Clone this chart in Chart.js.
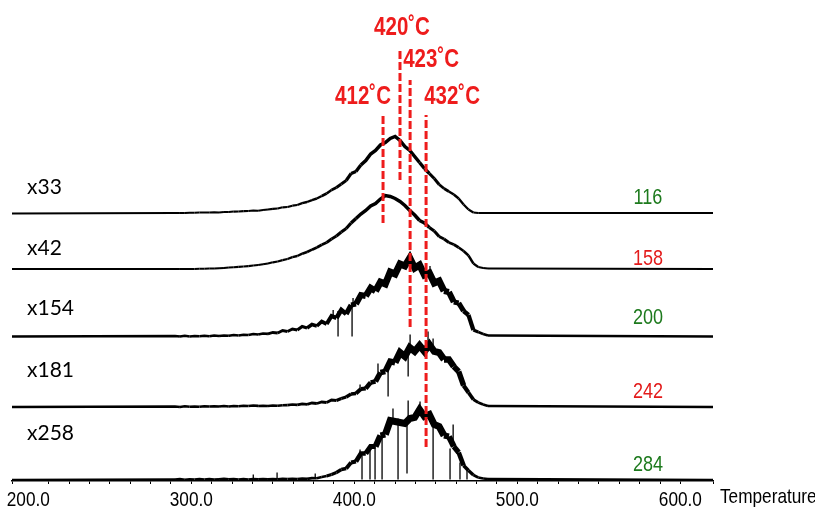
<!DOCTYPE html>
<html>
<head>
<meta charset="utf-8">
<script src="https://cdn.jsdelivr.net/npm/chart.js@4/dist/chart.umd.min.js"></script>
<style>
  html, body { margin: 0; padding: 0; background: #fff; }
  #wrap { width: 815px; height: 509px; }
</style>
</head>
<body>
<div id="wrap"><canvas id="tpdChart" width="815" height="509"></canvas></div>
<script>
// Temperature grid shared by the five traces
const temps = [190,
    290, 293, 296, 299, 302, 305, 308, 311, 314, 317,
    320, 323, 326, 329, 332, 335, 338, 341, 344, 347,
    350, 353, 356, 359, 362, 365, 368, 371, 374, 377,
    380, 383, 386, 389, 392, 395, 398, 401, 404, 407,
    410, 413, 416, 419, 422, 425, 428, 431, 434, 437,
    440, 443, 446, 449, 452, 455, 458, 461, 464, 467,
    470, 473, 476, 479, 482,
    620];
const tickTemps = [200, 300, 400, 500, 600];

const traceNames = ['x33', 'x42', 'x154', 'x181', 'x258'];
const traceTags = ['116', '158', '200', '242', '284'];
// vertical offset of each trace (stacked plot)
const offsets = [267.5, 211.5, 144, 73.5, 0.5];

// signal above each trace's own baseline
const x33 = [0,
    0.5, 0.5, 0.6, 0.7, 0.7, 0.9, 1, 1, 1.2, 1.1,
    1.4, 1.5, 1.9, 2, 2.4, 2.5, 3, 2.8, 3.5, 4,
    4.6, 5, 6.2, 6.5, 7.8, 8.5, 10.3, 11.5, 13.4, 15,
    17.5, 20, 23.5, 26, 29.5, 33, 40, 42, 48.5, 53,
    59.5, 63, 68.5, 71, 75, 77, 73, 67, 63, 57,
    51, 45, 40, 35, 29, 25, 22, 19, 15, 9,
    4, 1, 0.5, 0.5, 0.5,
    0.5];
const x42 = [0.5,
    0.5, 0.5, 0.6, 0.5, 0.6, 0.7, 0.8, 1, 1.1, 1.2,
    1.5, 2, 2.2, 2.6, 3, 3.4, 4, 4.5, 5.2, 6,
    7.2, 8, 9.3, 10.5, 12.4, 13.5, 15.8, 17.5, 19.8, 22,
    24.8, 27, 30.5, 33.5, 37.5, 41, 46.5, 51, 55.5, 59,
    63.5, 66, 70.5, 74, 73, 71, 68, 64, 59, 54.5,
    49, 46.5, 42, 38.5, 33, 30.5, 27, 25, 22, 18.5,
    14, 6, 2.5, 1.5, 1,
    0.5];
const x154 = [0.5,
    1, 0.5, 1.2, 0.6, 1, 0.8, 1.3, 0.7, 1.5, 1,
    1.6, 1.2, 2, 1.5, 2.3, 2, 3, 2.5, 3.5, 3.2,
    4.5, 4, 6.5, 5.5, 8, 7, 10.5, 9, 12.5, 11,
    15.5, 13, 21, 19, 27, 23, 32, 33, 42, 41,
    49, 46, 55, 53, 65, 63, 73, 71, 79, 69,
    72, 62, 64, 54, 56, 46, 45, 35, 34, 26,
    22, 7, 5, 3, 1.5,
    0.5];
const x181 = [0.5,
    1, 0.6, 1.2, 0.8, 1, 0.7, 1.3, 1, 1.2, 0.9,
    1.4, 1, 1.5, 1.2, 1.8, 1.4, 2, 1.6, 1.8, 1.5,
    2, 1.7, 2.2, 2.4, 3, 2.6, 3.6, 3.2, 4.5, 4,
    5.5, 5, 7.5, 7, 9, 10.5, 13.5, 14, 18.5, 19,
    25, 26, 35, 36, 46, 45, 55, 51, 60, 56,
    62, 56, 63, 56, 55, 48, 48, 41, 36, 22,
    15, 8, 5, 3, 1.5,
    0.5];
const x258 = [0.5,
    1, 1.5, 0.8, 1.3, 1, 1.6, 1.1, 1.4, 0.9, 1.3,
    1.8, 1.2, 1.5, 1, 1.4, 1.1, 1.6, 1.2, 1.5, 1.3,
    1.6, 1.2, 1.8, 1.4, 1.7, 1.5, 2, 1.6, 2.4, 2.2,
    3.5, 4.5, 6, 8, 11, 12, 18, 19, 27, 27,
    34, 34, 45, 46, 60, 59, 58, 57, 62, 63,
    71, 64, 66, 56, 54, 45, 44, 34, 28, 15,
    10, 5.5, 3, 2, 1.5,
    0.5];
const traceValues = [x33, x42, x154, x181, x258];

// single-point noise spikes: temperature, low end, high end
const spikeTemps154 = [387, 390, 398.6, 399.2, 421.9, 446.4];
const spikeLows154 = [20, 0.5, 0.5, 30, 62, 60];
const spikeHighs154 = [27, 26, 32, 39, 67, 71];
const spikeTemps181 = [403.5, 414.5, 420.7, 433.0, 434.2, 445.2, 448.3];
const spikeLows181 = [17, 35, 11, 31, 58, 60, 57];
const spikeHighs181 = [23, 44, 38, 57, 73, 76, 69];
const spikeTemps258 = [338, 352.6, 376, 403.5, 404.7, 409.6, 412.7, 417.0, 423.7, 426.8, 432.3, 433.0, 440.3, 448.3, 458.7, 460.6, 464.8, 469.1];
const spikeLows258 = [1, 1, 1.5, 24, 1, 1, 1, 1, 60, 1, 7, 60, 68, 1, 1, 36, 1, 1];
const spikeHighs258 = [6, 8, 7, 31, 25, 32, 36, 45, 72, 62, 60, 80, 79, 55, 32, 56, 18, 10];

// red dashed peak markers
const peakLabels = ['412˚C', '420˚C', '423˚C', '432˚C'];
const peakTemps = [417.6, 428.0, 434.2, 444.0];
const peakTops = [366, 433, 401, 366];
const peakBottoms = [258, 301, 154, 34];

// Arial Narrow is not available, so Liberation Sans is squeezed sideways
const SQUEEZE = 0.82;
function narrowText(ctx, s, x, y) {
    ctx.save();
    ctx.translate(x, y);
    ctx.scale(SQUEEZE, 1);
    ctx.fillText(s, 0, 0);
    ctx.restore();
}

const datasets = [];

peakTemps.forEach((t, i) => {
    datasets.push({
        label: peakLabels[i],
        data: [{ x: t, y: peakBottoms[i] }, { x: t, y: peakTops[i] }],
        borderColor: '#ee1c1c',
        borderWidth: 3,
        borderDash: [8, 3],
        pointRadius: 0,
        order: 0
    });
});

// noisy traces look like a thicker band where the signal is strong
traceValues.forEach((vals, i) => {
    const noisy = i >= 2;
    datasets.push({
        label: traceNames[i],
        data: temps.map((t, j) => ({ x: t, y: offsets[i] + vals[j] })),
        borderColor: '#000',
        borderWidth: noisy ? 2.4 : 2,
        pointRadius: 0,
        order: 1,
        segment: {
            borderWidth: c => {
                const v = Math.max(vals[c.p0DataIndex], vals[c.p1DataIndex]);
                return noisy ? 2.4 + Math.min(4.5, v / 12) : 2 + Math.min(1.5, v / 35);
            }
        }
    });
});

function spikeSet(name, off, ts, lows, highs) {
    const pts = [];
    ts.forEach((t, i) => {
        pts.push({ x: t, y: off + lows[i] }, { x: t, y: off + highs[i] }, { x: t, y: null });
    });
    return {
        label: name + ' spikes',
        data: pts,
        borderColor: '#000',
        borderWidth: 1.3,
        pointRadius: 0,
        spanGaps: false,
        order: 1
    };
}
datasets.push(spikeSet('x154', offsets[2], spikeTemps154, spikeLows154, spikeHighs154));
datasets.push(spikeSet('x181', offsets[3], spikeTemps181, spikeLows181, spikeHighs181));
datasets.push(spikeSet('x258', offsets[4], spikeTemps258, spikeLows258, spikeHighs258));

// texts: trace names, tags, peak temperatures, tick labels, axis title
const textPlugin = {
    id: 'texts',
    afterDatasetsDraw(chart) {
        const ctx = chart.ctx;
        const xs = chart.scales.x, ys = chart.scales.y;
        const nameY = [187, 248, 308, 370, 433];
        const tagY = [198, 259, 318, 392, 465];
        const tagColors = ['#1d7a1d', '#e31b1b', '#1d7a1d', '#e31b1b', '#1d7a1d'];
        const peakDx = [-20, 2, 21, 26];
        const peakDy = [18, 20, 20, 18];
        ctx.save();
        ctx.textBaseline = 'middle';

        ctx.textAlign = 'left';
        ctx.fillStyle = '#000';
        ctx.font = "21px Lato, sans-serif";
        traceNames.forEach((n, i) => ctx.fillText(n, 27, nameY[i]));

        ctx.textAlign = 'center';
        ctx.font = "22px 'Liberation Sans', Arial, sans-serif";
        traceTags.forEach((n, i) => {
            ctx.fillStyle = tagColors[i];
            narrowText(ctx, n, 648, tagY[i]);
        });

        ctx.font = "bold 25px 'Liberation Sans', Arial, sans-serif";
        ctx.fillStyle = '#ee1c1c';
        peakLabels.forEach((l, i) => {
            const px = xs.getPixelForValue(peakTemps[i]) + peakDx[i];
            const py = ys.getPixelForValue(peakTops[i]) - peakDy[i];
            narrowText(ctx, l, px, py);
        });

        ctx.fillStyle = '#000';
        ctx.font = "21px 'Liberation Sans', Arial, sans-serif";
        tickTemps.forEach(t => {
            narrowText(ctx, t.toFixed(1), xs.getPixelForValue(t), 500);
        });

        ctx.textAlign = 'left';
        ctx.textBaseline = 'alphabetic';
        ctx.font = "21px 'Liberation Sans', Arial, sans-serif";
        narrowText(ctx, 'Temperature', chart.chartArea.right + 7, 503);
        ctx.restore();
    }
};

new Chart(document.getElementById('tpdChart'), {
    type: 'line',
    data: { datasets: datasets },
    options: {
        responsive: false,
        animation: false,
        layout: { padding: { left: 12, right: 102, top: 0, bottom: 0 } },
        plugins: {
            legend: { display: false },
            tooltip: { enabled: false }
        },
        elements: { line: { tension: 0 } },
        scales: {
            x: {
                type: 'linear',
                min: 190,
                max: 620,
                afterFit(axis) { axis.height = 28; },
                border: { display: true, color: '#000', width: 1.5 },
                grid: { display: true, drawOnChartArea: false, drawTicks: true, tickLength: 3, color: '#000' },
                ticks: {
                    stepSize: 12.5,
                    autoSkip: false,
                    maxRotation: 0,
                    color: 'rgba(0,0,0,0)',
                    font: { size: 10 },
                    callback: () => ''
                }
            },
            y: {
                type: 'linear',
                display: false,
                min: 0,
                max: 481
            }
        }
    },
    plugins: [textPlugin]
});
</script>
</body>
</html>
